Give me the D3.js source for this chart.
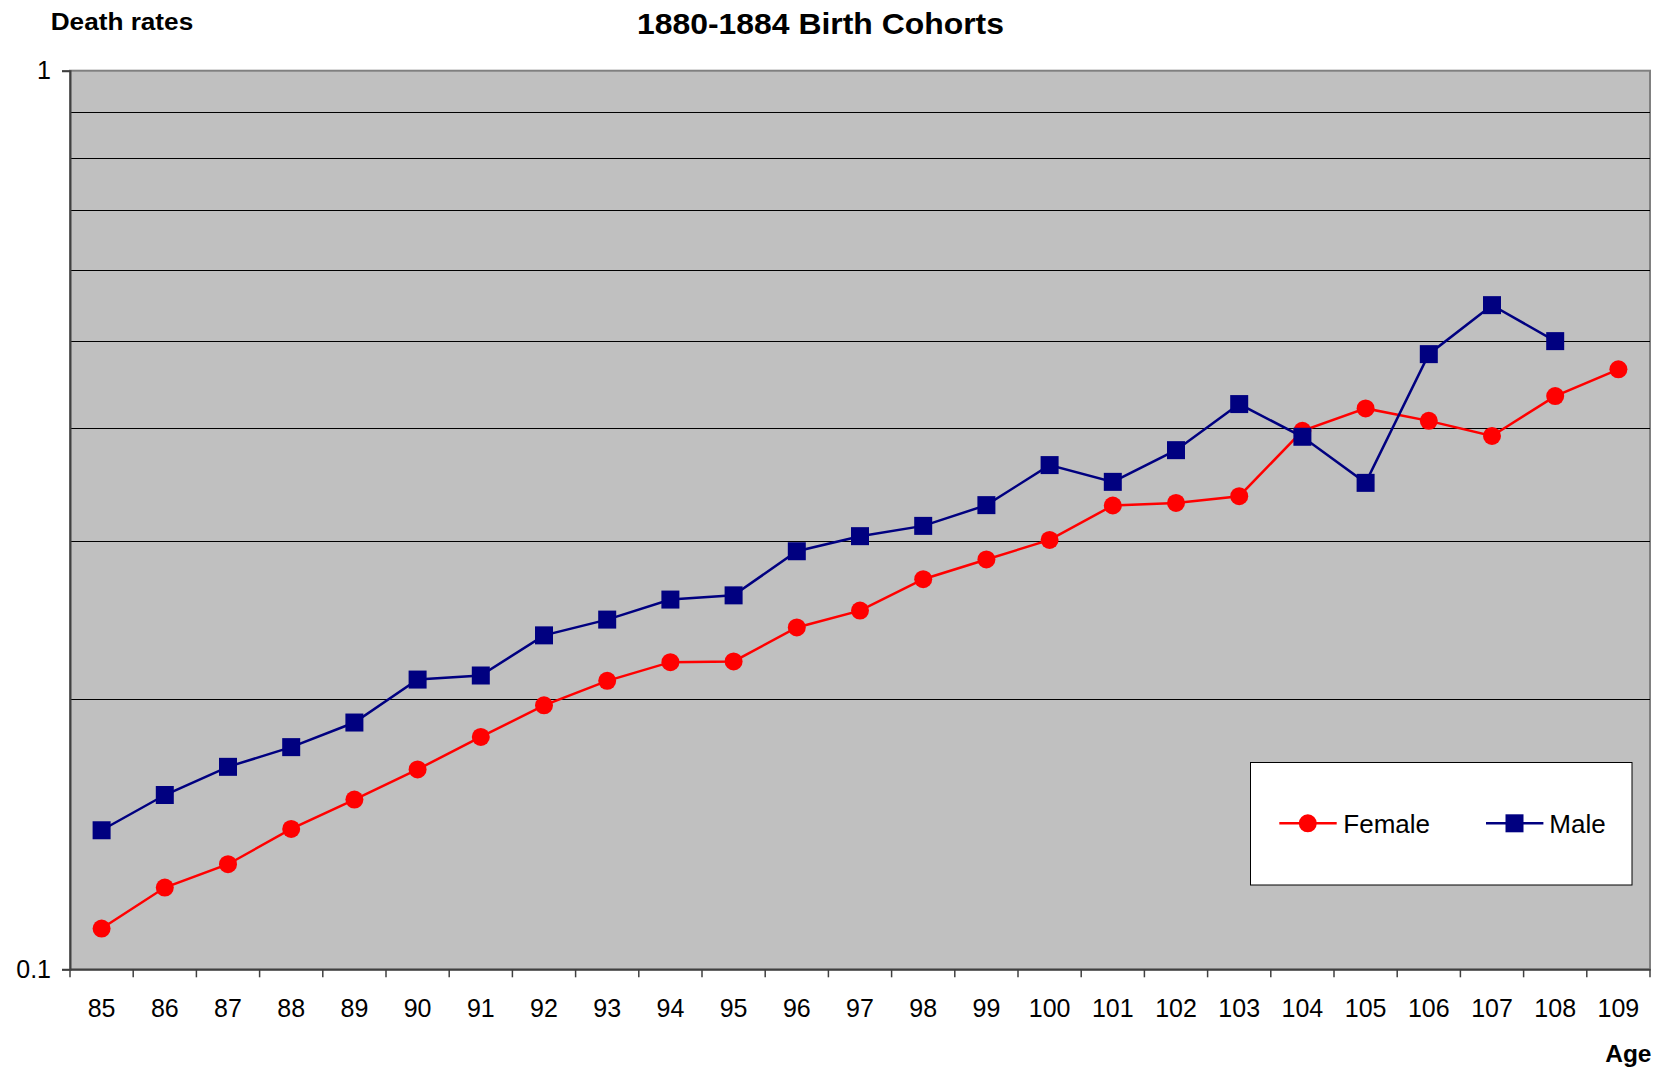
<!DOCTYPE html>
<html>
<head>
<meta charset="utf-8">
<script src="https://cdn.jsdelivr.net/npm/d3@7"></script>
<style>
  html, body { margin: 0; padding: 0; background: #fff; }
  svg { display: block; font-family: "Liberation Sans", Arial, sans-serif; }
</style>
</head>
<body>
<svg id="chart" width="1664" height="1070"></svg>
<script>
// ---- data ----
const ages = ["85","86","87","88","89","90","91","92","93","94","95","96","97","98","99","100","101","102","103","104","105","106","107","108","109"];
const female = [0.1110,0.1233,0.1309,0.1433,0.1545,0.1669,0.1814,0.1967,0.2094,0.2197,0.2201,0.2401,0.2507,0.2717,0.2858,0.3005,0.3282,0.3304,0.3361,0.3974,0.4209,0.4077,0.3922,0.4344,0.4652];
const male = [0.1428,0.1563,0.1680,0.1767,0.1882,0.2101,0.2123,0.2353,0.2450,0.2579,0.2607,0.2919,0.3034,0.3115,0.3285,0.3640,0.3487,0.3782,0.4256,0.3914,0.3478,0.4837,0.5484,0.5001,null];
const gridValues = [0.2,0.3,0.4,0.5,0.6,0.7,0.8,0.9];
const yTickValues = [0.1, 1];
const yTickLabels = ["0.1", "1"];
const seriesNames = ["Female", "Male"];
const title = "1880-1884 Birth Cohorts";
const yTitle = "Death rates";
const xTitle = "Age";

// ---- layout ----
const L = 70, R = 1650, T = 70.7, B = 969.3;
const svg = d3.select("#chart");

const x = d3.scaleBand().domain(ages).range([L, R]).paddingInner(0).paddingOuter(0);
const y = d3.scaleLog().domain([0.1, 1]).range([B, T]);
const cx = d => x(d) + x.bandwidth() / 2;

// plot background
svg.append("rect").attr("x", L).attr("y", T).attr("width", R - L).attr("height", B - T)
  .attr("fill", "#C0C0C0").attr("stroke", "#808080").attr("stroke-width", 2);

// gridlines
svg.append("g").selectAll("line").data(gridValues).join("line")
  .attr("x1", L).attr("x2", R)
  .attr("y1", d => Math.round(y(d)) + 0.5).attr("y2", d => Math.round(y(d)) + 0.5)
  .attr("stroke", "#000").attr("stroke-width", 1);

// y axis
const yAxis = svg.append("g").attr("transform", `translate(${L},0)`)
  .call(d3.axisLeft(y).tickValues(yTickValues)
    .tickFormat((d, i) => yTickLabels[i]).tickSize(8).tickPadding(11));
yAxis.select(".domain").attr("stroke", "#404040").attr("stroke-width", 2);
yAxis.selectAll(".tick line").attr("stroke", "#404040").attr("stroke-width", 1.5);
yAxis.selectAll("text").attr("font-size", 25).attr("fill", "#000")
  .attr("font-family", "Liberation Sans, Arial, sans-serif");

// x axis (labels centered in bands)
const xAxis = svg.append("g").attr("transform", `translate(0,${B})`)
  .call(d3.axisBottom(x).tickSize(0).tickPadding(30));
xAxis.select(".domain").attr("stroke", "#404040").attr("stroke-width", 2);
xAxis.selectAll("text").attr("font-size", 25).attr("fill", "#000")
  .attr("font-family", "Liberation Sans, Arial, sans-serif");

// x tick marks between categories
const boundaries = ages.map(a => x(a)).concat([x.range()[1]]);
svg.append("g").selectAll("line").data(boundaries).join("line")
  .attr("x1", d => d).attr("x2", d => d)
  .attr("y1", B).attr("y2", B + 8)
  .attr("stroke", "#404040").attr("stroke-width", 1.5);

// series
const series = [
  { name: seriesNames[0], values: female, color: "#FF0000", marker: "circle" },
  { name: seriesNames[1], values: male, color: "#000080", marker: "square" }
];
const line = d3.line()
  .defined(d => d.v != null)
  .x(d => cx(d.a)).y(d => y(d.v));

series.forEach(s => {
  const pts = ages.map((a, i) => ({ a, v: s.values[i] }));
  svg.append("path").datum(pts).attr("d", line)
    .attr("fill", "none").attr("stroke", s.color).attr("stroke-width", 2.5);
  const valid = pts.filter(d => d.v != null);
  if (s.marker === "circle") {
    svg.append("g").selectAll("circle").data(valid).join("circle")
      .attr("cx", d => cx(d.a)).attr("cy", d => y(d.v)).attr("r", 9)
      .attr("fill", s.color);
  } else {
    svg.append("g").selectAll("rect").data(valid).join("rect")
      .attr("x", d => cx(d.a) - 9).attr("y", d => y(d.v) - 9)
      .attr("width", 18).attr("height", 18)
      .attr("fill", s.color);
  }
});

// titles
svg.append("text").text(title)
  .attr("x", 637).attr("y", 33.5)
  .attr("font-size", 29.5).attr("font-weight", "bold")
  .attr("textLength", 367).attr("lengthAdjust", "spacingAndGlyphs");
svg.append("text").text(yTitle)
  .attr("x", 50.7).attr("y", 29.5)
  .attr("font-size", 23).attr("font-weight", "bold")
  .attr("textLength", 142.5).attr("lengthAdjust", "spacingAndGlyphs");
svg.append("text").text(xTitle)
  .attr("x", 1651.5).attr("y", 1061.7).attr("text-anchor", "end")
  .attr("font-size", 24.5).attr("font-weight", "bold");

// legend
const lg = svg.append("g");
lg.append("rect").attr("x", 1250.5).attr("y", 762.5).attr("width", 381.5).attr("height", 122.5)
  .attr("fill", "#fff").attr("stroke", "#000").attr("stroke-width", 1);
const legendItems = [
  { s: series[0], x0: 1279.3, tx: 1343.3 },
  { s: series[1], x0: 1486, tx: 1549.3 }
];
legendItems.forEach(it => {
  const ly = 823.3;
  lg.append("line").attr("x1", it.x0).attr("x2", it.x0 + 57.4)
    .attr("y1", ly).attr("y2", ly).attr("stroke", it.s.color).attr("stroke-width", 2.5);
  const mx = it.x0 + 28.5;
  if (it.s.marker === "circle") {
    lg.append("circle").attr("cx", mx).attr("cy", ly).attr("r", 9).attr("fill", it.s.color);
  } else {
    lg.append("rect").attr("x", mx - 9).attr("y", ly - 9).attr("width", 18).attr("height", 18)
      .attr("fill", it.s.color);
  }
  lg.append("text").text(it.s.name).attr("x", it.tx).attr("y", 832.7)
    .attr("font-size", 26).attr("fill", "#000");
});
</script>
</body>
</html>
